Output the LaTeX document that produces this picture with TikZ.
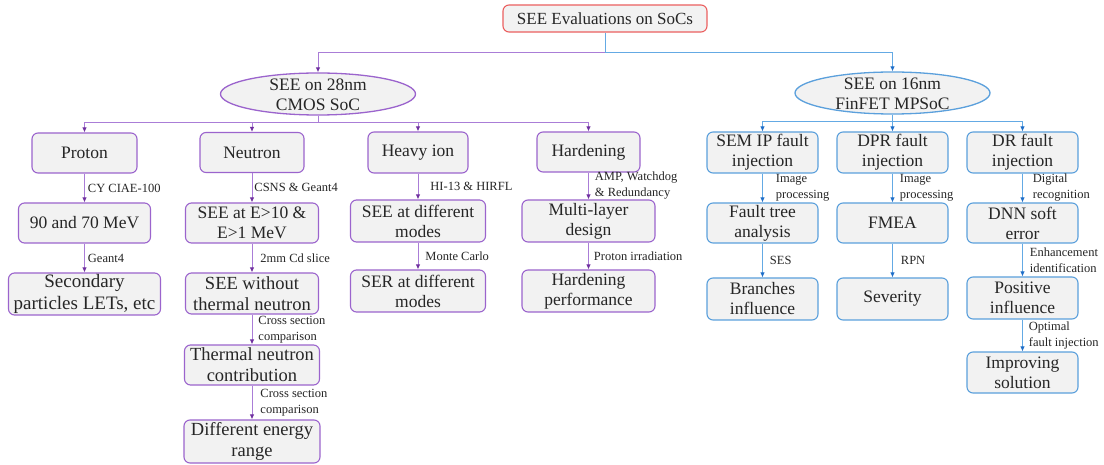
\documentclass[tikz,border=0pt]{standalone}
\usepackage{fontspec}
\setmainfont{LiberationSerif}[Extension=.ttf, UprightFont=*-Regular, BoldFont=*-Bold, Ligatures=TeX]
\usetikzlibrary{arrows.meta,shapes.geometric}

\definecolor{boxfill}{RGB}{242,242,242}
\definecolor{txt}{RGB}{38,38,38}
\definecolor{pborder}{RGB}{155,100,205}
\definecolor{plinec}{RGB}{170,125,215}
\definecolor{ptip}{RGB}{112,48,160}
\definecolor{bborder}{RGB}{91,160,220}
\definecolor{blinec}{RGB}{100,170,228}
\definecolor{btip}{RGB}{30,110,200}
\definecolor{rborder}{RGB}{235,95,95}

\newcommand{\boxfont}{\rmfamily\fontsize{17.5}{20}\selectfont}
\newcommand{\lblfont}{\rmfamily\fontsize{12.5}{16}\selectfont}

\tikzset{
  base/.style={draw, fill=boxfill, text=txt, rounded corners=6pt, line width=1.1pt,
    align=center, inner sep=0pt, font=\boxfont},
  pbox/.style={base, draw=pborder},
  bbox/.style={base, draw=bborder},
  oval/.style={ellipse, fill=boxfill, line width=1.3pt, inner sep=0pt},
  ovaltext/.style={text=txt, align=center, inner sep=0pt, font=\boxfont},
  lbl/.style={text=txt, inner sep=0pt, align=left, font=\lblfont},
  pcon/.style={draw=plinec, line width=0.9pt},
  bcon/.style={draw=blinec, line width=0.9pt},
  parr/.style={pcon, -{Latex[length=5pt,width=4.5pt,color=ptip]}},
  barr/.style={bcon, -{Latex[length=5pt,width=4.5pt,color=btip]}},
}

\begin{document}
\begin{tikzpicture}[x=1pt, y=-1pt]
\fill[white] (0,0) rectangle (1104,465);
\useasboundingbox (0,0) rectangle (1104,465);

% root
\node[base, draw=rborder, minimum width=204pt, minimum height=27pt,
      font=\rmfamily\fontsize{17}{20}\selectfont] (root) at (605,18.5) {SEE Evaluations on SoCs};

% second level: the two SoCs
\node[oval, draw=pborder, minimum width=195pt, minimum height=42pt] (cmos) at (318,94) {};
\node[ovaltext] (cmostext) at (318,95) {SEE on 28nm\\CMOS SoC};
\node[oval, draw=bborder, minimum width=195pt, minimum height=42pt] (fin) at (892.5,93) {};
\node[ovaltext] (fintext) at (892.5,94) {SEE on 16nm\\FinFET MPSoC};

% 28nm CMOS SoC branch
\node[pbox, minimum width=105pt, minimum height=40pt] (proton) at (84.5,153) {Proton};
\node[pbox, minimum width=104pt, minimum height=40pt] (neutron) at (252,152.5) {Neutron};
\node[pbox, minimum width=100pt, minimum height=41pt] (heavy) at (418,152.5) {Heavy ion};
\node[pbox, minimum width=103pt, minimum height=40pt] (hard) at (588.5,152) {Hardening};

\node[pbox, minimum width=132pt, minimum height=40pt] (mev) at (84.5,223) {90 and 70 MeV};
\node[pbox, minimum width=133pt, minimum height=40pt] (seeE) at (252,223) {SEE at E>10 \&\\E>1 MeV};
\node[pbox, minimum width=135pt, minimum height=42pt] (seediff) at (418,221) {SEE at different\\modes};
\node[pbox, minimum width=133pt, minimum height=42pt] (multi) at (588.5,221) {Multi-layer\\design};

\node[pbox, minimum width=152pt, minimum height=42pt,
      font=\rmfamily\fontsize{19}{22}\selectfont] (secondary) at (84.5,294) {Secondary\\particles LETs, etc};
\node[pbox, minimum width=133pt, minimum height=41pt,
      font=\rmfamily\fontsize{18.5}{21}\selectfont] (seewo) at (252,293.5) {SEE without\\thermal neutron};
\node[pbox, minimum width=135pt, minimum height=42pt] (ser) at (418,291) {SER at different\\modes};
\node[pbox, minimum width=133pt, minimum height=42pt] (hperf) at (588.5,291) {Hardening\\performance};

\node[pbox, minimum width=135pt, minimum height=40pt,
      font=\rmfamily\fontsize{18.5}{21}\selectfont] (thermal) at (252,365) {Thermal neutron\\contribution};
\node[pbox, minimum width=136pt, minimum height=43pt,
      font=\rmfamily\fontsize{18.5}{21}\selectfont] (diffE) at (252,441.5) {Different energy\\range};

% 16nm FinFET MPSoC branch
\node[bbox, minimum width=111pt, minimum height=41pt] (sem) at (762.5,152.5) {SEM IP fault\\injection};
\node[bbox, minimum width=111pt, minimum height=41pt] (dpr) at (892.5,152.5) {DPR fault\\injection};
\node[bbox, minimum width=111pt, minimum height=41pt] (dr) at (1022.5,152.5) {DR fault\\injection};

\node[bbox, minimum width=111pt, minimum height=40pt] (fta) at (762.5,223) {Fault tree\\analysis};
\node[bbox, minimum width=111pt, minimum height=40pt] (fmea) at (892.5,223) {FMEA};
\node[bbox, minimum width=111pt, minimum height=40pt] (dnn) at (1022.5,223) {DNN soft\\error};

\node[bbox, minimum width=111pt, minimum height=42pt] (branch) at (762.5,299) {Branches\\influence};
\node[bbox, minimum width=111pt, minimum height=42pt] (sev) at (892.5,299) {Severity};
\node[bbox, minimum width=111pt, minimum height=42pt] (pos) at (1022.5,298) {Positive\\influence};
\node[bbox, minimum width=111pt, minimum height=41pt] (impr) at (1022.5,372.5) {Improving\\solution};

% connectors from the root
\coordinate (topbus) at (605,52);
\draw[bcon] (root.south) -- (topbus);
\draw[parr] (topbus) -| (cmos.north);
\draw[barr] (topbus) -| (fin.north);

% bus under the CMOS SoC
\coordinate (lbus) at (318,122);
\draw[pcon] (cmos.south) -- (lbus);
\foreach \n in {proton,neutron,heavy,hard} \draw[parr] (lbus) -| (\n.north);

% bus under the FinFET MPSoC
\coordinate (rbus) at (892.5,121);
\draw[bcon] (fin.south) -- (rbus);
\foreach \n in {sem,dpr,dr} \draw[barr] (rbus) -| (\n.north);

% proton column
\draw[parr] (proton.south) -- node[lbl, right=3pt] {CY CIAE-100} (proton.south |- mev.north);
\draw[parr] (mev.south) -- node[lbl, right=3pt] {Geant4} (mev.south |- secondary.north);

% neutron column
\draw[parr] (neutron.south) -- node[lbl, right=2pt] {CSNS \& Geant4} (neutron.south |- seeE.north);
\draw[parr] (seeE.south) -- node[lbl, right=8pt] {2mm Cd slice} (seeE.south |- seewo.north);
\draw[parr] (seewo.south) -- node[lbl, right=6pt] {Cross section\\comparison} (seewo.south |- thermal.north);
\draw[parr] (thermal.south) -- node[lbl, right=8pt] {Cross section\\comparison} (thermal.south |- diffE.north);

% heavy ion column
\draw[parr] (heavy.south) -- node[lbl, right=12pt] {HI-13 \& HIRFL} (heavy.south |- seediff.north);
\draw[parr] (seediff.south) -- node[lbl, right=7pt] {Monte Carlo} (seediff.south |- ser.north);

% hardening column
\draw[parr] (hard.south) -- node[lbl, right=6pt] {AMP, Watchdog\\\& Redundancy} (hard.south |- multi.north);
\draw[parr] (multi.south) -- node[lbl, right=5pt] {Proton irradiation} (multi.south |- hperf.north);

% SEM IP column
\draw[barr] (sem.south) -- node[lbl, right=13pt] {Image\\processing} (sem.south |- fta.north);
\draw[barr] (fta.south) -- node[lbl, right=7pt] {SES} (fta.south |- branch.north);

% DPR column
\draw[barr] (dpr.south) -- node[lbl, right=7pt] {Image\\processing} (dpr.south |- fmea.north);
\draw[barr] (fmea.south) -- node[lbl, right=8pt] {RPN} (fmea.south |- sev.north);

% DR column
\draw[barr] (dr.south) -- node[lbl, right=10pt] {Digital\\recognition} (dr.south |- dnn.north);
\draw[barr] (dnn.south) -- node[lbl, right=7pt] {Enhancement\\identification} (dnn.south |- pos.north);
\draw[barr] (pos.south) -- node[lbl, right=6pt] {Optimal\\fault injection} (pos.south |- impr.north);
\end{tikzpicture}
\end{document}
